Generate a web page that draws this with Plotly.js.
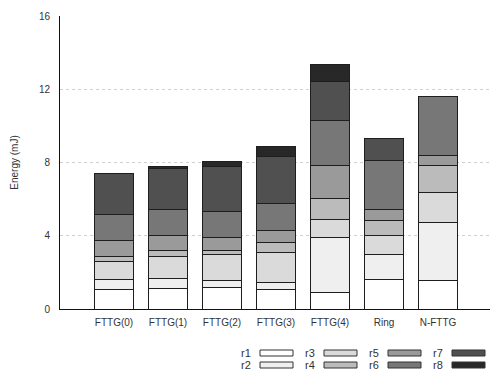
<!DOCTYPE html>
<html>
<head>
<meta charset="utf-8">
<script src="https://cdn.plot.ly/plotly-3.0.1.min.js"></script>
<style>html,body{margin:0;padding:0;background:#fff;}#chart{width:490px;height:371px;}</style>
</head>
<body>
<div id="chart"></div>
<script>
var categories = ['FTTG(0)','FTTG(1)','FTTG(2)','FTTG(3)','FTTG(4)','Ring','N-FTTG'];
var seriesNames = ['r1','r2','r3','r4','r5','r6','r7','r8'];
var r1 = [1.05,1.13,1.18,1.05,0.91,1.62,1.53];
var r2 = [0.57,0.56,0.37,0.42,3.00,1.37,3.18];
var r3 = [1.00,1.19,1.44,1.59,0.99,1.00,1.66];
var r4 = [0.26,0.32,0.21,0.56,1.11,0.85,1.49];
var r5 = [0.85,0.84,0.70,0.69,1.85,0.62,0.53];
var r6 = [1.44,1.42,1.45,1.44,2.44,2.66,3.19];
var r7 = [2.22,2.22,2.44,2.59,2.15,1.18,0.03];
var r8 = [0.03,0.09,0.28,0.54,0.91,0.03,0.00];
var yTicks = [0,4,8,12,16];
var colors = ['#ffffff','#efeff0','#dadada','#bbbbbb','#9a9a9a','#777777','#505050','#282828'];

var values = [r1,r2,r3,r4,r5,r6,r7,r8];
var FONT = 'Liberation Sans, Arial, Helvetica, sans-serif';

var traces = values.map(function(v,i){
  return {
    type:'bar', x:categories, y:v, name:seriesNames[i],
    marker:{color:colors[i], line:{color:'#1e1e1e', width:1}},
    width:0.71, showlegend:false, hoverinfo:'skip'
  };
});

// plot area in pixels
var L=60, T=16, W=430, H=293;
function px2x(p){ return (p-L)/W; }
function px2y(p){ return (T+H-p)/H; }

var shapes=[], annotations=[];
var colX=[260,324,388,452], rowY=[353,365];
seriesNames.forEach(function(n,i){
  var c=Math.floor(i/2), r=i%2;
  var x0=colX[c], x1=x0+33, yc=rowY[r];
  shapes.push({type:'rect', xref:'paper', yref:'paper',
    x0:px2x(x0), x1:px2x(x1), y0:px2y(yc+3), y1:px2y(yc-3),
    fillcolor:colors[i], line:{color:'#333', width:1}});
  annotations.push({xref:'paper', yref:'paper', x:px2x(x0-7), y:px2y(yc),
    xanchor:'right', yanchor:'middle', text:n, showarrow:false,
    font:{family:FONT, size:11, color:'#333'}});
});

var layout = {
  width:490, height:371,
  margin:{l:L, r:0, t:T, b:371-T-H, pad:0},
  paper_bgcolor:'#fff', plot_bgcolor:'#fff',
  barmode:'stack',
  font:{family:FONT, size:10, color:'#333'},
  xaxis:{type:'category', range:[-1, 6.963], showgrid:false, zeroline:false,
    showline:true, linecolor:'#111', linewidth:1, ticks:'', 
    tickfont:{family:FONT, size:10, color:'#333'}, ticklabelstandoff:4},
  xaxis2:{overlaying:'x', side:'top', anchor:'y', type:'linear', range:[-1, 6.963],
    tickvals:[0,1,2,3,4,5,6], ticks:'inside', ticklen:3, tickcolor:'#444',
    showticklabels:false, showgrid:false, zeroline:false,
    showline:true, linecolor:'#444', linewidth:1},
  yaxis:{range:[0,16], tickvals:yTicks, ticktext:yTicks.map(String),
    showgrid:true, gridcolor:'#d0d0d0', griddash:'dot', gridwidth:1,
    zeroline:false, showline:true, linecolor:'#111', linewidth:1, ticks:'',
    ticklabelstandoff:7,
    tickfont:{family:FONT, size:10, color:'#333'},
    title:{text:'Energy (mJ)', font:{family:FONT, size:10, color:'#333'}, standoff:18}},
  shapes:shapes, annotations:annotations
};

Plotly.newPlot('chart', traces, layout, {staticPlot:true, displayModeBar:false});
</script>
</body>
</html>
